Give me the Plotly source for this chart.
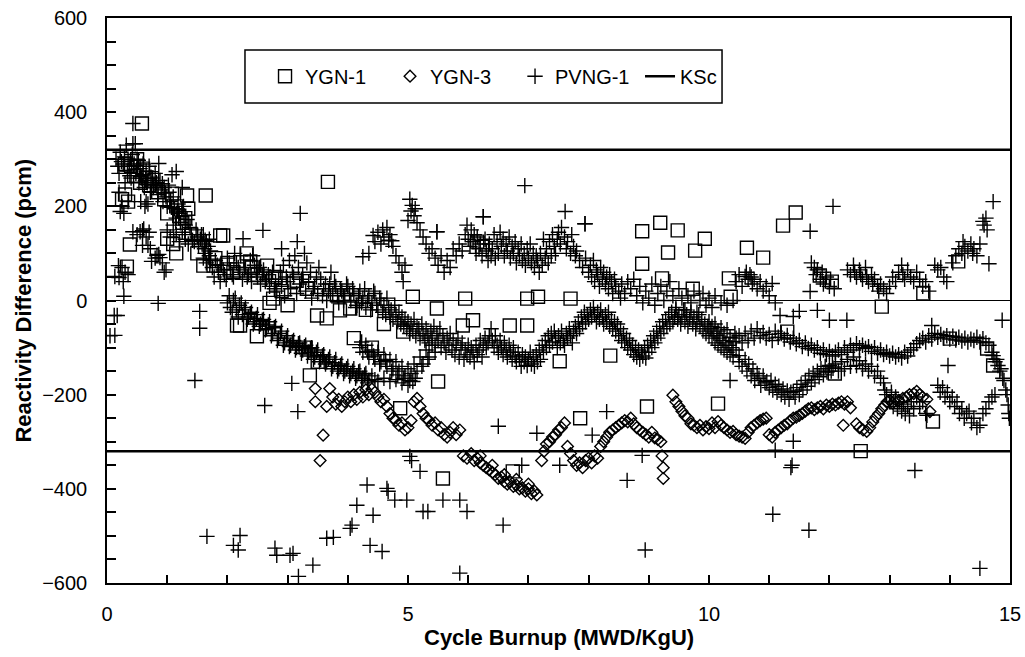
import plotly.graph_objects as go

# ---------------- data ----------------
X_TICKS = [0, 5, 10, 15]
Y_TICKS = [-600, -400, -200, 0, 200, 400, 600]
KSC_LIMIT = 320

YGN1 = [(0.25,215),(0.3,225),(0.35,210),(0.3,290),(0.4,285),(0.45,265),(0.5,300),(0.55,250),(0.58,376),
        (0.6,280),(0.65,260),(0.7,245),(0.75,260),(0.85,230),(0.95,215),(1.08,227),(1.0,185),(1.15,200),
        (1.2,180),(1.25,165),(1.33,223),(1.35,195),(1.3,175),(1.64,223),(0.38,119),(0.33,72),(1.0,131),
        (1.1,120),(1.15,100),(1.6,74),(1.5,100),(1.4,140),(1.93,138),(1.88,138),(1.8,90),(1.77,74),(2.0,80),
        (2.1,60),(2.32,100),(2.38,83),(2.4,70),(2.5,55),(2.66,74),(2.8,50),(3.15,42),(2.9,20),(3.0,-10),
        (2.7,-5),(2.76,4),(3.32,25),(2.21,-53),(2.16,-53),(2.49,-76),(3.49,-32),(3.65,-38),(3.37,-159),
        (3.5,-130),(3.3,-100),(3.67,252),(3.87,-21),(3.82,11),(4.04,-17),(4.1,-80),(4.3,-20),(4.4,-100),
        (4.6,-50),(4.92,-66),(5.08,8),(5.5,-172),(4.87,-229),(5.48,-17),(5.91,-53),(6.15,125),(6.23,114),
        (5.95,4),(6.08,-42),(6.69,-53),(6.98,-53),(6.98,4),(7.16,8),(7.7,4),(7.52,-129),(8.36,-117),
        (5.58,-378),(7.86,-250),(8.97,-225),(10.15,-219),(6.74,-363),(8.89,147),(9.19,165),(9.48,149),
        (9.93,131),(9.77,106),(9.32,102),(8.89,78),(9.22,47),(9.73,25),(10.63,112),(10.9,91),(10.33,47),
        (10.36,8),(11.23,159),(11.44,187),(11.84,53),(12.04,40),(12.87,-13),(13.56,15),(12.09,-155),
        (12.52,-320),(11.3,-66),(14.0,-81),(14.62,-102),(14.72,-138),(14.14,83),(13.72,-257)]

YGN3_A = [(3.46,-187),(3.7,-187),(3.46,-215),(3.65,-225),(3.59,-286),(3.54,-340),
          (3.75,-205),(3.8,-220),(3.85,-210),(3.9,-225),(3.95,-215),(4.0,-205),(4.05,-215),(4.1,-200),
          (4.15,-210),(4.2,-195),(4.25,-205),(4.3,-190),(4.35,-200),(4.4,-188),(4.45,-195),(4.5,-205),
          (4.55,-215),(4.6,-210),(4.65,-225),(4.7,-240),(4.75,-250),(4.8,-255),(4.85,-265),(4.9,-260),
          (4.95,-275),(5.0,-270),(5.05,-255),(5.1,-215),(5.15,-208),(5.2,-225),(5.25,-240),(5.3,-250),
          (5.35,-255),(5.4,-265),(5.45,-260),(5.5,-275),(5.55,-270),(5.6,-285),(5.65,-290),(5.7,-280),
          (5.75,-270),(5.8,-285),(5.86,-275)]
YGN3_B = [(5.92,-330),(5.98,-335),(6.05,-325),(6.1,-340),(6.15,-335),(6.2,-345),(6.25,-350),(6.3,-355),
          (6.35,-360),(6.4,-365),(6.45,-370),(6.5,-378),(6.55,-375),(6.6,-385),(6.65,-390),(6.7,-385),
          (6.75,-395),(6.8,-392),(6.85,-400),(6.9,-398),(6.95,-405),(7.0,-400),(7.05,-410),(7.1,-405),
          (7.14,-413),(6.2,-330),(6.4,-350),(6.6,-370),(6.8,-380),(7.0,-390),
          (7.22,-340),(7.26,-320),(7.3,-305),(7.35,-300),(7.4,-290),(7.45,-285),(7.5,-275),(7.55,-270),
          (7.6,-260),(7.65,-310),(7.7,-325),(7.75,-340),(7.8,-350),(7.85,-345),(7.9,-355),(7.95,-340),
          (8.0,-335),(8.05,-345),(8.1,-330),(8.15,-335),(8.2,-310),(8.25,-300),(8.3,-290),(8.35,-280),
          (8.4,-275),(8.45,-270),(8.5,-265),(8.55,-260),(8.6,-255),(8.65,-258),(8.7,-250),(8.75,-262),
          (8.8,-270),(8.85,-275),(8.9,-280),(8.95,-285),(9.0,-290),(9.05,-280),(9.1,-292),(9.15,-295),
          (9.2,-300),(9.22,-330),(9.24,-355),(9.24,-378)]
YGN3_C = [(9.4,-201),(9.45,-215),(9.5,-225),(9.55,-235),(9.6,-245),(9.65,-250),(9.7,-262),(9.75,-265),
          (9.8,-270),(9.85,-265),(9.9,-275),(9.95,-268),(10.0,-272),(10.05,-260),(10.1,-270),(10.15,-257),
          (10.2,-265),(10.25,-270),(10.3,-275),(10.35,-280),(10.4,-278),(10.45,-285),(10.5,-288),
          (10.55,-290),(10.6,-293),(10.65,-280),(10.7,-270),(10.75,-265),(10.8,-260),(10.85,-255),
          (10.9,-252),(10.95,-250),(11.0,-285),(11.05,-290),(11.1,-280),(11.15,-275),(11.2,-270),
          (11.25,-265),(11.3,-262),(11.35,-255),(11.4,-250),(11.45,-248),(11.5,-244),(11.55,-240),
          (11.6,-235),(11.65,-230),(11.7,-228),(11.75,-232),(11.8,-228),(11.85,-225),(11.9,-230),
          (11.95,-222),(12.0,-225),(12.05,-220),(12.1,-222),(12.15,-218),(12.2,-215),(12.25,-220),
          (12.3,-215),(12.35,-228),(12.23,-265),(12.45,-262),(12.5,-270),(12.56,-275),(12.62,-278),
          (12.67,-270),(12.72,-258),(12.77,-248),(12.82,-240),(12.87,-230),(12.92,-222),(12.96,-215),
          (13.0,-212),(13.05,-218),(13.1,-210),(13.15,-212),(13.22,-208),(13.28,-205),(13.33,-200),
          (13.4,-198),(13.45,-193),(13.5,-200),(13.55,-205),(13.62,-210),(13.67,-236)]

PVNG1_C1 = [(0.15,300),(0.18,285),(0.2,270),(0.22,315),(0.24,295),(0.27,290),(0.29,305),(0.3,250),(0.32,330),
            (0.34,275),(0.35,300),(0.37,285),(0.38,265),(0.4,260),(0.42,310),(0.44,285),(0.45,290),(0.47,333),
            (0.48,270),(0.5,300),(0.52,298),(0.53,250),(0.55,280),(0.57,260),(0.58,265),(0.6,290),(0.6,267),
            (0.62,240),(0.64,255),(0.65,275),(0.67,250),(0.68,255),(0.7,285),(0.72,230),(0.73,262),(0.75,260),
            (0.77,240),(0.78,245),(0.8,270),(0.82,250),(0.83,240),(0.85,225),(0.86,291),(0.88,255),(0.9,235),
            (0.92,248),(0.93,210),(0.95,240),(0.97,228),(0.98,220),(1.0,200),(1.02,245),(1.03,230),(1.05,210),
            (1.07,198),(1.08,267),(1.1,220),(1.12,195),(1.15,274),(1.15,175),(1.17,190),(1.18,205),(1.2,185),
            (1.22,165),(1.25,240),(1.27,200),(1.28,180),(1.3,160),(1.33,172),(0.2,230),(0.22,189),(0.25,200),
            (0.28,185),(0.35,210),(0.56,210),(0.63,200),(0.65,210),(0.68,205),(0.43,376),(0.43,333)]
PVNG1_C2 = [(0.05,-75),(0.12,-32),(0.17,-32),(0.13,-74),(0.28,9),(0.13,51),(0.2,49),(0.19,74),(0.25,70),
            (0.3,60),(0.35,55),(0.27,40),(0.43,146),(0.55,146),(0.59,148),(0.61,152),(0.59,117),(0.68,117),
            (0.72,110),(0.74,83),(0.83,96),(0.86,98),(0.88,91),(0.92,80),(0.95,60),(0.98,65),(0.8,90),
            (0.85,-6),(0.5,140),(0.65,135),(0.7,145)]
PVNG1_C3 = [(1.0,150),(1.05,135),(1.1,160),(1.15,140),(1.2,125),(1.25,145),(1.3,130),(1.35,120),(1.38,155),
            (1.4,140),(1.42,128),(1.45,125),(1.48,150),(1.5,135),(1.52,115),(1.55,130),(1.57,140),(1.58,120),
            (1.6,140),(1.62,110),(1.63,128),(1.65,125),(1.68,115),(1.7,130),(1.72,105),(1.46,-170),(1.54,-59),
            (1.54,-23),(2.26,131),(2.59,149),(3.16,125),(2.9,110),(3.21,185)]
PVNG1_C4 = [(1.6,90),(1.63,100),(1.65,80),(1.7,95),(1.72,85),(1.75,70),(1.78,50),(1.8,85),(1.83,75),(1.85,60),
            (1.88,40),(1.9,75),(1.93,65),(1.95,55),(1.98,45),(2.0,90),(2.03,80),(2.05,65),(2.08,55),(2.1,50),
            (2.12,100),(2.15,80),(2.18,70),(2.2,60),(2.22,95),(2.25,45),(2.28,65),(2.3,70),(2.33,50),(2.35,55),
            (2.38,85),(2.4,40),(2.42,95),(2.45,75),(2.48,60),(2.5,50),(2.53,70),(2.55,35),(2.58,55),(2.6,65),
            (2.63,40),(2.65,45),(2.68,55),(2.7,30),(2.73,45),(2.75,60),(2.78,25),(2.8,40)]
PVNG1_C5 = [(2.82,20),(2.85,45),(2.88,60),(2.9,30),(2.93,75),(2.95,10),(2.98,50),(3.0,40),(3.03,85),(3.05,25),
            (3.08,60),(3.1,50),(3.12,95),(3.15,15),(3.18,70),(3.2,35),(3.23,45),(3.25,55),(3.28,100),(3.3,20),
            (3.32,80),(3.35,40),(3.38,60),(3.4,5),(3.43,25),(3.45,30),(3.48,50),(3.5,15),(3.52,70),(3.55,45),
            (3.58,10),(3.6,25),(3.63,35),(3.65,0),(3.68,20),(3.7,35),(3.72,60),(3.75,15),(3.78,40),(3.8,30),
            (3.83,10),(3.85,-5),(3.88,25),(3.9,20),(3.93,0),(3.95,10),(3.98,35),(4.0,30),(4.03,15),(4.05,0),
            (4.08,25),(4.1,15),(4.13,-15),(4.15,-10),(4.18,10),(4.2,20),(4.23,-5),(4.25,5),(4.28,25),(4.3,-15),
            (4.33,0),(4.35,10),(4.38,-20),(4.4,-5),(4.43,20),(4.45,15),(4.48,-10),(4.5,-20),(4.53,5),(4.55,0),
            (4.58,-25),(4.6,-10),(4.63,-30),(4.65,5),(4.68,-15),(4.7,-35)]
PVNG1_C6 = [(4.72,-20),(4.75,-40),(4.78,-10),(4.8,-30),(4.83,-45),(4.85,-25),(4.88,-50),(4.9,-35),(4.93,-55),
            (4.95,-40),(4.98,-60),(5.0,-45),(5.03,-70),(5.05,-50),(5.08,-65),(5.1,-40),(5.13,-75),(5.15,-55),
            (5.18,-60),(5.2,-80),(5.23,-50),(5.25,-70),(5.28,-85),(5.3,-60),(5.33,-75),(5.35,-90),(5.38,-65),
            (5.4,-80),(5.43,-55),(5.45,-95),(5.48,-70),(5.5,-85),(5.53,-60),(5.55,-100),(5.58,-75),(5.6,-90),
            (5.63,-110),(5.65,-80),(5.68,-95),(5.7,-70),(5.73,-105),(5.75,-85),(5.78,-115),(5.8,-95),(5.83,-80),
            (5.85,-120),(5.88,-100),(5.9,-90),(5.93,-125),(5.95,-105),(5.98,-115),(6.0,-95),(6.03,-120),
            (6.05,-100),(6.08,-110),(6.1,-130),(6.13,-95),(6.15,-115),(6.18,-105),(6.2,-85),(6.23,-120),
            (6.25,-95),(6.28,-80),(6.3,-100),(6.33,-90),(6.35,-75)]
PVNG1_C7 = [(2.0,-5),(2.03,10),(2.05,-15),(2.08,-25),(2.1,0),(2.13,5),(2.15,-20),(2.18,-35),(2.2,-10),(2.23,-5),
            (2.25,-30),(2.28,-20),(2.3,-15),(2.33,-40),(2.35,-35),(2.38,-28),(2.4,-25),(2.43,-50),(2.45,-45),
            (2.48,-38),(2.5,-30),(2.53,-55),(2.55,-50),(2.58,-42),(2.6,-40),(2.63,-62),(2.65,-60),(2.68,-52),
            (2.7,-45),(2.73,-75),(2.75,-70),(2.78,-58),(2.8,-55),(2.83,-85),(2.85,-80),(2.88,-70),(2.9,-65),
            (2.93,-95),(2.95,-90),(2.98,-80),(3.0,-75),(3.03,-98),(3.05,-95),(3.08,-88),(3.1,-85),(3.13,-105),
            (3.15,-100),(3.18,-92),(3.2,-90),(3.23,-112),(3.25,-105),(3.28,-98),(3.3,-95),(3.33,-118),
            (3.35,-110),(3.38,-102),(3.4,-100),(3.43,-125),(3.45,-120),(3.48,-110),(3.5,-105),(3.53,-130),
            (3.55,-125),(3.58,-118),(3.6,-115),(3.63,-135),(3.65,-130),(3.68,-125),(3.7,-120),(3.73,-145),
            (3.75,-140),(3.78,-132),(3.8,-125),(3.83,-150),(3.85,-145),(3.88,-138),(3.9,-135),(3.93,-155),
            (3.95,-150),(3.98,-145),(4.0,-140),(4.03,-160),(4.05,-155),(4.08,-150),(4.1,-145),(4.13,-165),
            (4.15,-160),(4.18,-152),(4.2,-150),(4.23,-170),(4.25,-165),(4.28,-158),(4.3,-155),(4.33,-175),
            (4.35,-170),(4.4,-160),(4.45,-168),(4.5,-172)]
PVNG1_C8 = [(4.2,-100),(4.23,-88),(4.25,-110),(4.3,-95),(4.33,-108),(4.35,-120),(4.4,-105),(4.43,-118),
            (4.45,-125),(4.5,-110),(4.53,-135),(4.55,-130),(4.6,-115),(4.63,-128),(4.65,-140),(4.7,-125),
            (4.73,-150),(4.75,-145),(4.8,-130),(4.83,-158),(4.85,-150),(4.9,-140),(4.93,-165),(4.95,-160),
            (5.0,-145),(5.03,-170),(5.05,-155),(5.1,-135),(5.12,-165),(5.15,-150),(5.2,-120),(5.23,-140),
            (5.25,-135),(5.3,-105),(5.33,-125),(5.35,-120),(5.4,-95),(5.45,-110),(4.6,-165),(4.7,-172),
            (4.8,-168),(4.9,-175),(5.0,-180),(5.08,-172)]
PVNG1_C9 = [(4.25,93),(4.35,100),(4.42,138),(4.45,125),(4.5,145),(4.55,120),(4.58,150),(4.6,135),(4.65,155),
            (4.68,128),(4.7,140),(4.73,127),(4.75,115),(4.8,95),(4.85,80),(4.9,60),(4.92,40),(4.95,75),(5.0,170),
            (5.03,215),(5.05,190),(5.07,202),(5.1,180),(5.12,195),(5.15,165),(5.2,150),(5.25,135),(5.3,120),
            (5.35,100),(5.4,110),(5.45,90),(5.48,146),(5.5,75),(5.55,95),(5.6,60),(5.65,85),(5.7,70),(5.75,110),
            (5.8,95),(5.85,120),(5.9,105),(5.95,140),(5.98,160),(6.0,130),(6.03,115),(6.05,150),(6.08,125),
            (6.1,140),(6.13,100),(6.15,135),(6.18,110),(6.2,120),(6.25,178),(6.23,95),(6.28,130),(6.3,105),
            (6.33,85),(6.35,120),(6.38,95),(6.4,110),(6.43,140),(6.45,90),(6.48,125),(6.5,100),(6.53,145),
            (6.55,115),(6.58,130),(6.6,95),(6.63,120),(6.65,105),(6.68,135),(6.7,90),(6.73,115),(6.75,100),
            (6.78,125),(6.8,80),(6.83,110),(6.85,95),(6.88,120),(6.9,85),(6.93,100),(6.95,75),(6.98,110),
            (7.0,90),(7.03,120),(7.05,80),(7.08,100),(7.1,70),(7.13,95),(7.15,85),(7.18,60),(7.2,100),(7.23,75),
            (7.25,130),(7.28,90),(7.3,110),(7.33,80),(7.35,125),(7.38,95),(7.4,140),(7.43,115),(7.45,100),
            (7.48,130),(7.5,145),(7.53,120),(7.55,155),(7.6,135),(7.63,110),(7.65,125),(7.7,100),(7.72,140),
            (7.75,115),(7.78,95),(7.8,105),(7.85,85),(7.9,70),(7.94,163),(7.95,90),(8.0,60),(8.03,75),(8.05,50),
            (8.08,85),(8.1,40),(8.13,65),(8.15,55),(8.18,30),(8.2,70),(8.23,45),(8.25,60),(8.28,35),(8.3,50),
            (8.33,25),(8.35,55),(8.38,40),(8.4,15),(8.43,45),(8.45,30),(8.5,20),(8.53,5),(8.55,35),(8.6,15),
            (8.65,40),(8.7,25),(8.75,45),(8.8,10),(8.85,30),(8.9,-5),(8.95,20),(9.0,5),(9.05,35),(9.1,-10),
            (9.15,15),(9.2,30),(9.25,0),(9.3,20),(9.35,40),(9.4,10),(9.45,-15),(9.5,25),(9.55,5),(9.6,-20),
            (9.65,10),(9.7,-5),(9.75,20),(9.8,-25),(9.85,0),(9.9,15),(9.95,-10),(10.0,5),(10.05,-15),(10.1,10),
            (10.2,-5),(10.3,-10),(10.4,0)]
PVNG1_C10 = [(6.38,-60),(6.4,-85),(6.43,-100),(6.45,-75),(6.48,-95),(6.5,-110),(6.53,-85),(6.55,-100),
             (6.58,-115),(6.6,-90),(6.63,-105),(6.65,-120),(6.68,-95),(6.7,-110),(6.73,-125),(6.75,-100),
             (6.78,-118),(6.8,-130),(6.83,-110),(6.85,-125),(6.88,-140),(6.9,-115),(6.93,-130),(6.95,-120),
             (6.98,-138),(7.0,-125),(7.03,-110),(7.05,-135),(7.08,-120),(7.1,-140),(7.13,-115),(7.15,-130),
             (7.18,-105),(7.2,-125),(7.23,-95),(7.25,-110),(7.28,-85),(7.3,-100),(7.33,-75),(7.35,-95),
             (7.38,-70),(7.4,-88),(7.43,-65),(7.45,-80),(7.48,-100),(7.5,-75),(7.53,-90),(7.55,-65),(7.58,-85),
             (7.6,-95),(7.63,-70),(7.65,-80),(7.68,-60),(7.7,-75),(7.73,-90),(7.75,-65),(7.78,-55),(7.8,-70),
             (7.83,-45),(7.85,-60),(7.88,-35),(7.9,-50),(7.93,-25),(7.95,-45),(7.98,-30),(8.0,-40),(8.03,-20),
             (8.05,-35),(8.08,-15),(8.1,-30),(8.13,-45),(8.15,-25),(8.18,-40),(8.2,-20),(8.23,-35),(8.25,-50),
             (8.28,-30),(8.3,-45),(8.33,-25),(8.35,-55),(8.38,-40),(8.4,-60),(8.43,-45),(8.45,-65),(8.48,-50),
             (8.5,-75),(8.53,-60),(8.55,-85),(8.58,-70),(8.6,-90),(8.63,-80),(8.65,-100),(8.68,-85),(8.7,-105),
             (8.73,-95),(8.75,-115),(8.78,-100),(8.8,-120),(8.83,-105),(8.85,-125),(8.88,-110),(8.9,-118),
             (8.93,-100),(8.95,-122),(8.98,-95),(9.0,-110),(9.03,-85),(9.05,-100),(9.08,-75),(9.1,-90),
             (9.13,-65),(9.15,-80),(9.18,-55),(9.2,-70),(9.23,-45),(9.25,-60),(9.28,-40),(9.3,-55),(9.33,-30),
             (9.35,-50),(9.38,-25),(9.4,-45),(9.43,-35),(9.45,-20),(9.48,-40),(9.5,-30),(9.53,-50),(9.55,-35),
             (9.58,-20),(9.6,-45),(9.63,-30),(9.65,-55),(9.68,-40),(9.7,-25),(9.73,-50),(9.75,-35),(9.78,-60),
             (9.8,-45),(9.83,-30),(9.85,-55),(9.88,-40),(9.9,-65),(9.93,-50),(9.95,-70),(9.98,-55),(10.0,-75),
             (10.03,-60),(10.05,-80),(10.08,-70),(10.1,-90),(10.13,-75),(10.15,-95),(10.18,-80),(10.2,-100),
             (10.23,-85),(10.25,-105),(10.28,-90),(10.3,-110),(10.33,-95),(10.35,-115),(10.38,-100),(10.4,-120),
             (10.45,-105),(10.5,-117)]
PVNG1_C11 = [(10.0,-45),(10.05,-55),(10.1,-50),(10.15,-65),(10.2,-58),(10.25,-70),(10.3,-62),(10.35,-78),
             (10.4,-87),(10.43,-70),(10.45,-80),(10.5,-75),(10.55,-90),(10.6,-70),(10.65,-85),(10.7,-65),
             (10.75,-80),(10.8,-60),(10.85,-75),(10.9,-68),(10.95,-80),(11.0,-72),(11.05,-85),(11.1,-65),
             (11.15,-78),(11.2,-70),(11.25,-82),(11.3,-74),(11.35,-88),(11.4,-80),(11.45,-92),(11.5,-85),
             (11.55,-98),(11.6,-90),(11.65,-102),(11.7,-95),(11.75,-105),(11.8,-100),(11.85,-112),(11.9,-105),
             (11.95,-115),(12.0,-108),(12.05,-118),(12.1,-110),(12.15,-105),(12.2,-115),(12.25,-100),
             (12.3,-110),(12.35,-95),(12.4,-105),(12.45,-92),(12.5,-100),(12.55,-95),(12.6,-102),(12.65,-98),
             (12.7,-108),(12.75,-100),(12.8,-112),(12.85,-105),(12.9,-115),(12.95,-110),(13.0,-118),
             (13.05,-112),(13.1,-120),(13.15,-115),(13.2,-122),(13.25,-110),(13.3,-118),(13.35,-105),
             (13.4,-100),(13.45,-92),(13.5,-85),(13.55,-80),(13.6,-88),(13.65,-75),(13.7,-82),(13.75,-70),
             (13.8,-78),(13.85,-72),(13.9,-80),(13.95,-75),(14.0,-82),(14.05,-76),(14.1,-84),(14.15,-78),
             (14.2,-86),(14.25,-80),(14.3,-88),(14.35,-82),(14.4,-85),(14.45,-78),(14.5,-88),(14.55,-81),
             (14.6,-90),(14.65,-95),(14.7,-110),(14.72,-117),(14.75,-130),(14.78,-125),(14.8,-138),(14.83,-150),
             (14.85,-145),(14.88,-165),(14.9,-170),(14.93,-190),(14.95,-200),(14.97,-222),(14.98,-240),
             (14.99,-250)]
PVNG1_C12 = [(10.5,-130),(10.55,-140),(10.6,-125),(10.63,-150),(10.66,-135),(10.7,-160),(10.73,-145),
             (10.76,-170),(10.8,-155),(10.83,-165),(10.86,-180),(10.9,-160),(10.93,-175),(10.96,-172),
             (11.0,-185),(11.03,-170),(11.06,-190),(11.1,-178),(11.13,-195),(11.16,-182),(11.2,-200),
             (11.23,-188),(11.26,-205),(11.3,-192),(11.33,-210),(11.36,-195),(11.4,-193),(11.43,-205),
             (11.46,-185),(11.5,-200),(11.53,-178),(11.56,-190),(11.6,-170),(11.63,-182),(11.66,-160),
             (11.7,-175),(11.73,-155),(11.76,-168),(11.8,-150),(11.83,-162),(11.86,-145),(11.9,-158),
             (11.93,-140),(11.96,-152),(12.0,-138),(12.03,-150),(12.06,-144),(12.1,-135),(12.15,-150),
             (12.2,-130),(12.25,-145),(12.3,-125),(12.35,-140),(12.4,-120),(12.45,-138),(12.5,-128),
             (12.55,-145),(12.6,-135),(12.65,-150),(12.7,-140),(12.75,-160),(12.8,-150),(12.85,-165),
             (12.9,-175),(12.92,-190),(12.95,-200),(13.0,-215),(13.03,-195),(13.06,-225),(13.1,-205),
             (13.13,-230),(13.16,-215),(13.2,-235),(13.23,-220),(13.26,-240),(13.3,-225),(13.33,-245),
             (13.36,-215),(13.4,-230),(13.45,-205),(13.5,-225),(13.55,-215),(13.6,-240),(13.62,-244),
             (13.8,-180),(13.84,-195),(13.88,-185),(13.92,-205),(13.96,-195),(14.0,-215),(14.04,-205),
             (14.08,-225),(14.12,-215),(14.16,-240),(14.2,-230),(14.24,-250),(14.28,-240),(14.32,-235),
             (14.36,-260),(14.4,-250),(14.45,-270),(14.5,-265),(14.55,-240),(14.6,-230),(14.65,-215),
             (14.7,-205),(14.75,-200)]
PVNG1_C13 = [(10.45,40),(10.5,55),(10.55,30),(10.6,51),(10.62,60),(10.65,45),(10.68,55),(10.7,50),(10.72,35),
             (10.75,45),(10.8,25),(10.85,40),(10.9,20),(10.95,30),(11.05,36),(11.0,10),(11.1,-5),(11.18,-32),
             (11.4,-34),(11.5,-23),(11.68,19),(11.68,147),(11.7,80),(11.75,70),(11.78,55),(11.8,65),(11.85,45),
             (11.88,60),(11.9,35),(11.95,50),(12.0,30),(12.02,45),(12.06,200),(12.08,25),(11.8,-21),(12.0,-42),
             (12.29,-42),(12.3,65),(12.35,55),(12.4,75),(12.42,60),(12.45,50),(12.5,65),(12.52,55),(12.55,45),
             (12.6,70),(12.62,50),(12.65,40),(12.7,55),(12.72,35),(12.75,45),(12.8,30),(12.82,20),(12.85,35),
             (12.9,25),(12.95,15),(13.0,30),(13.05,50),(13.1,40),(13.15,60),(13.2,75),(13.22,55),(13.25,45),
             (13.3,65),(13.35,50),(13.4,40),(13.45,60),(13.5,45),(13.55,30),(13.6,40),(13.65,20),(13.7,-53),
             (13.75,75),(13.8,65),(13.85,70),(13.9,50),(13.95,40),(14.05,80),(14.1,95),(14.15,110),(14.2,100),
             (14.22,125),(14.25,115),(14.3,105),(14.35,120),(14.38,100),(14.4,110),(14.45,95),(14.5,120),
             (14.55,168),(14.57,160),(14.6,175),(14.62,150),(14.65,78),(14.72,210),(14.87,-42)]
PVNG1_OUT = [(1.66,-501),(2.1,-520),(2.21,-499),(2.18,-530),(2.79,-526),(2.82,-541),(3.04,-541),(3.09,-537),
             (3.18,-586),(3.42,-562),(3.65,-505),(3.76,-503),(4.04,-484),(4.07,-477),(4.15,-435),(4.42,-456),
             (4.37,-520),(4.57,-533),(4.32,-392),(4.65,-399),(4.67,-405),(4.78,-424),(5.03,-331),(5.06,-340),
             (2.62,-223),(3.17,-236),(3.07,-176),(6.5,-267),(7.14,-282),(8.06,-286),(8.3,-236),(8.64,-382),
             (8.89,-329),(8.94,-530),(6.58,-477),(5.98,-448),(5.86,-424),(5.58,-424),(5.33,-448),(5.25,-448),
             (4.98,-424),(5.86,-579),(6.89,-350),(7.52,-350),(5.2,-363),(11.38,-350),(11.36,-355),
             (13.42,-361),(11.06,-454),(11.66,-488),(14.5,-569),(13.97,-138),(10.35,-170),(11.4,-299),
             (11.1,-318),(6.94,244),(7.61,189),(7.94,163),(6.25,178),(5.48,146)]

X_RANGE = [0, 15]
Y_RANGE = [-600, 600]


def unzip(*groups):
    xs, ys = [], []
    for g in groups:
        for x, y in g:
            xs.append(x)
            ys.append(y)
    return xs, ys


ygn1_x, ygn1_y = unzip(YGN1)
ygn3_x, ygn3_y = unzip(YGN3_A, YGN3_B, YGN3_C)
pv_x, pv_y = unzip(PVNG1_C1, PVNG1_C2, PVNG1_C3, PVNG1_C4, PVNG1_C5, PVNG1_C6, PVNG1_C7,
                   PVNG1_C8, PVNG1_C9, PVNG1_C10, PVNG1_C11, PVNG1_C12, PVNG1_C13, PVNG1_OUT)

FONT = "Liberation Sans, Arial, Helvetica, sans-serif"

fig = go.Figure()
fig.add_trace(go.Scatter(x=ygn1_x, y=ygn1_y, mode="markers", name="YGN-1",
                         marker=dict(symbol="square-open", size=13, color="black",
                                     line=dict(width=1.4, color="black"))))
fig.add_trace(go.Scatter(x=ygn3_x, y=ygn3_y, mode="markers", name="YGN-3",
                         marker=dict(symbol="diamond-open", size=9, color="black",
                                     line=dict(width=1.4, color="black"))))
fig.add_trace(go.Scatter(x=pv_x, y=pv_y, mode="markers", name="PVNG-1",
                         marker=dict(symbol="cross-thin", size=11, color="black",
                                     line=dict(width=1.4, color="black"))))
fig.add_trace(go.Scatter(x=[X_RANGE[0], X_RANGE[1], None, X_RANGE[0], X_RANGE[1]],
                         y=[KSC_LIMIT, KSC_LIMIT, None, -KSC_LIMIT, -KSC_LIMIT],
                         mode="lines", name="KSc", line=dict(color="black", width=2.5)))

fig.update_layout(
    width=1025, height=657,
    margin=dict(l=107, r=15, t=18, b=74, autoexpand=False),
    paper_bgcolor="white", plot_bgcolor="white",
    font=dict(family=FONT, size=20, color="black"),
    showlegend=True,
    legend=dict(orientation="h", x=0.175, y=0.897, xanchor="left", yanchor="middle",
                bgcolor="rgba(0,0,0,0)", borderwidth=0, entrywidth=80,
                font=dict(family=FONT, size=20, color="black")),
    xaxis=dict(range=X_RANGE, tickvals=X_TICKS, ticks="inside", ticklen=8, tickwidth=1.5,
               tickcolor="black", showline=True, linecolor="black", linewidth=1.5, mirror=True,
               showgrid=False, zeroline=False, ticklabelstandoff=12, automargin=False,
               tickfont=dict(family=FONT, size=20, color="black"),
               minor=dict(dtick=1, tick0=0, ticks="inside", ticklen=8, tickwidth=1.5, tickcolor="black",
                          showgrid=False)),
    yaxis=dict(range=Y_RANGE, tickvals=Y_TICKS, ticks="inside", ticklen=9, tickwidth=1.5,
               tickcolor="black", showline=True, linecolor="black", linewidth=1.5, mirror=True,
               showgrid=False, zeroline=True, zerolinecolor="black", zerolinewidth=1,
               ticklabelstandoff=14, automargin=False,
               tickfont=dict(family=FONT, size=20, color="black"),
               minor=dict(dtick=50, tick0=0, ticks="inside", ticklen=9, tickwidth=1.5, tickcolor="black",
                          showgrid=False)),
    shapes=[dict(type="rect", xref="paper", yref="paper", x0=0.1528, x1=0.6811, y0=0.8496, y1=0.9434,
                 line=dict(color="black", width=1.5), fillcolor="white", layer="below")],
    annotations=[
        dict(text="Cycle Burnup (MWD/KgU)", xref="paper", yref="paper", x=0.5, y=-0.0956,
             xanchor="center", yanchor="middle", showarrow=False,
             font=dict(family=FONT, size=22, color="black", weight="bold")),
        dict(text="Reactivity Difference (pcm)", xref="paper", yref="paper", x=-0.093, y=0.5,
             xanchor="center", yanchor="middle", textangle=-90, showarrow=False,
             font=dict(family=FONT, size=22, color="black", weight="bold")),
    ],
)

fig.write_html("out.html", config={"displayModeBar": False},
               post_script="document.body.style.margin='0';document.body.style.overflow='hidden';")
